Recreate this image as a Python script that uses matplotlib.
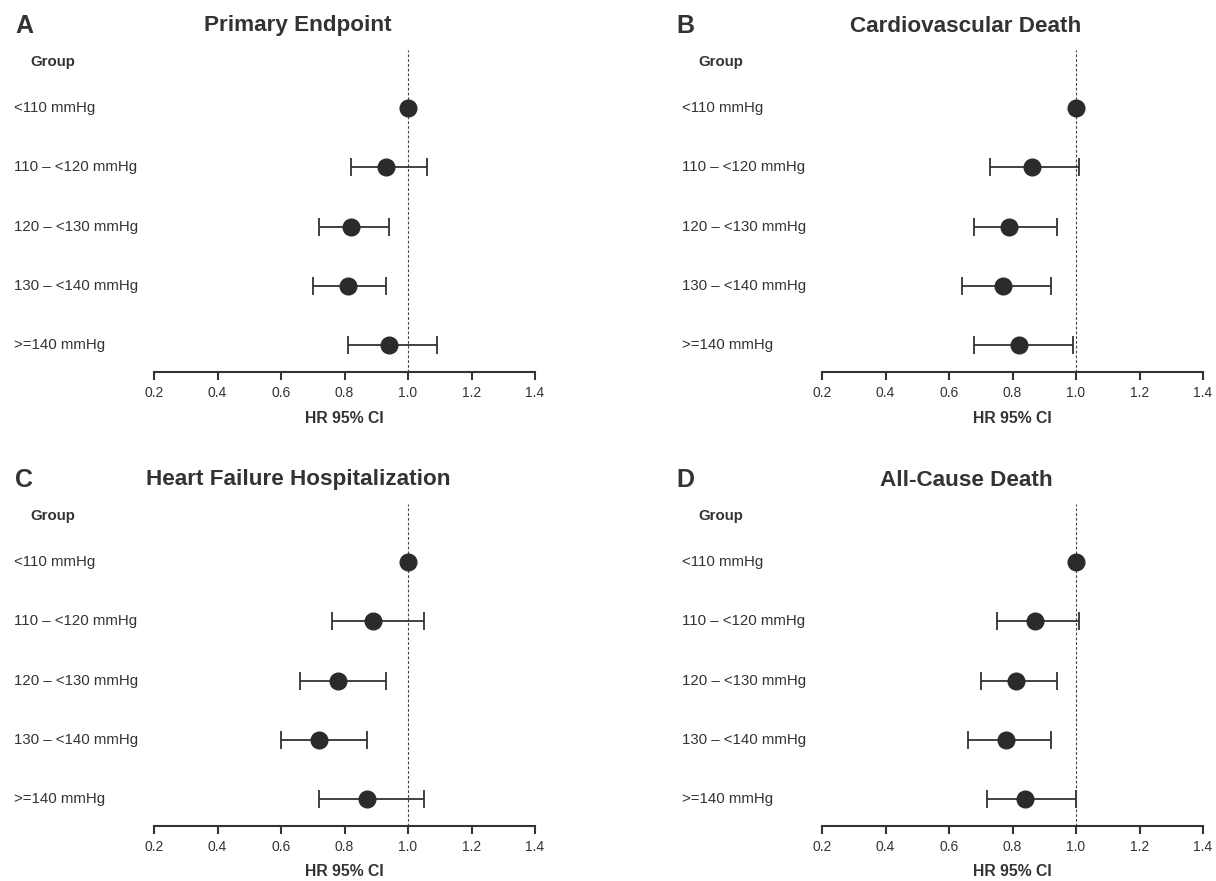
import matplotlib
matplotlib.use("Agg")
import matplotlib.pyplot as plt
import numpy as np

plt.rcParams['font.family'] = ['Liberation Sans', 'DejaVu Sans']

# ---------------- data ----------------
groups = ["<110 mmHg", "110 \u2013 <120 mmHg", "120 \u2013 <130 mmHg",
          "130 \u2013 <140 mmHg", ">=140 mmHg"]
panel_letters = ["A", "B", "C", "D"]
panel_titles = ["Primary Endpoint", "Cardiovascular Death",
                "Heart Failure Hospitalization", "All-Cause Death"]

hr_primary = [1.00, 0.93, 0.82, 0.81, 0.94]
lo_primary = [None, 0.82, 0.72, 0.70, 0.81]
hi_primary = [None, 1.06, 0.94, 0.93, 1.09]

hr_cvdeath = [1.00, 0.86, 0.79, 0.77, 0.82]
lo_cvdeath = [None, 0.73, 0.68, 0.64, 0.68]
hi_cvdeath = [None, 1.01, 0.94, 0.92, 0.99]

hr_hfh = [1.00, 0.89, 0.78, 0.72, 0.87]
lo_hfh = [None, 0.76, 0.66, 0.60, 0.72]
hi_hfh = [None, 1.05, 0.93, 0.87, 1.05]

hr_acd = [1.00, 0.87, 0.81, 0.78, 0.84]
lo_acd = [None, 0.75, 0.70, 0.66, 0.72]
hi_acd = [None, 1.01, 0.94, 0.92, 1.00]

x_ticks = [0.2, 0.4, 0.6, 0.8, 1.0, 1.2, 1.4]
x_label = "HR 95% CI"
group_header = "Group"

panels = [
    (hr_primary, lo_primary, hi_primary),
    (hr_cvdeath, lo_cvdeath, hi_cvdeath),
    (hr_hfh, lo_hfh, hi_hfh),
    (hr_acd, lo_acd, hi_acd),
]

# ---------------- layout ----------------
W, H = 1216, 881
fig = plt.figure(figsize=(W / 100, H / 100), dpi=100)
DARK = "#333333"

offsets = [(0, 0), (668, 0), (0, 454), (668, 454)]
letter_x = [15, 676, 15, 676]

AX_L, AX_R, AX_T, AX_B = 154, 535, 50, 372
ROW0, ROW_SP = 108, 59.25


def fx(px):
    return px / W


def fy(py):
    return 1 - py / H


for i, ((dx, dy), (hr, lo, hi)) in enumerate(zip(offsets, panels)):
    left, right = AX_L + dx, AX_R + dx
    top, bottom = AX_T + dy, AX_B + dy
    ax = fig.add_axes([fx(left), fy(bottom), (right - left) / W, (bottom - top) / H])
    ax.set_xlim(x_ticks[0], x_ticks[-1])
    y_top = 1 - (ROW0 - AX_T) / ROW_SP
    y_bot = len(groups) + (AX_B - (ROW0 + 4 * ROW_SP)) / ROW_SP
    ax.set_ylim(y_bot, y_top)

    ys = np.arange(1, len(groups) + 1)
    hr_a = np.array(hr, dtype=float)

    # reference line
    ax.axvline(1.0, color="#444444", lw=0.8, ls=(0, (2.5, 1.8)), zorder=1)

    # confidence intervals
    idx = [k for k in range(len(groups)) if lo[k] is not None]
    lo_a = np.array([lo[k] for k in idx])
    hi_a = np.array([hi[k] for k in idx])
    ax.errorbar(hr_a[idx], ys[idx], xerr=[hr_a[idx] - lo_a, hi_a - hr_a[idx]],
                fmt="none", ecolor=DARK, elinewidth=1.3, capsize=6.3,
                capthick=1.3, zorder=2)
    ax.plot(hr_a, ys, "o", ms=12, color="#2b2b2b", zorder=3)

    # axes styling
    for s in ["left", "right", "top"]:
        ax.spines[s].set_visible(False)
    ax.spines["bottom"].set_color(DARK)
    ax.spines["bottom"].set_linewidth(1.5)
    ax.set_yticks([])
    ax.set_xticks(x_ticks)
    ax.set_xticklabels([f"{t:.1f}" for t in x_ticks])
    ax.tick_params(axis="x", direction="out", length=6, width=1.5,
                   colors=DARK, labelsize=10, pad=4)
    ax.patch.set_alpha(0)

    # group labels
    trans = ax.get_yaxis_transform()
    lab_x = (13.5 + dx - left) / (right - left)
    for k, g in enumerate(groups):
        ax.text(lab_x, ys[k], g, transform=trans, ha="left", va="center",
                fontsize=10.8, color=DARK, clip_on=False)
    grp_x = (30 + dx - left) / (right - left)
    grp_y = 1 - (ROW0 - 62) / ROW_SP
    ax.text(grp_x, grp_y, group_header, transform=trans, ha="left",
            va="center", fontsize=10.8, fontweight="bold", color=DARK,
            clip_on=False)

    # x label
    fig.text(fx((left + right) / 2), fy(418 + dy), x_label, ha="center",
             va="center", fontsize=11.3, fontweight="bold", color=DARK)

    # titles
    fig.text(fx(298 + dx), fy(26 + dy), panel_titles[i], ha="center",
             va="center", fontsize=16.2, fontweight="bold", color=DARK)
    fig.text(fx(letter_x[i]), fy(26 + dy), panel_letters[i], ha="left",
             va="center", fontsize=18, fontweight="bold", color=DARK)

fig.savefig("out.png", dpi=100)
